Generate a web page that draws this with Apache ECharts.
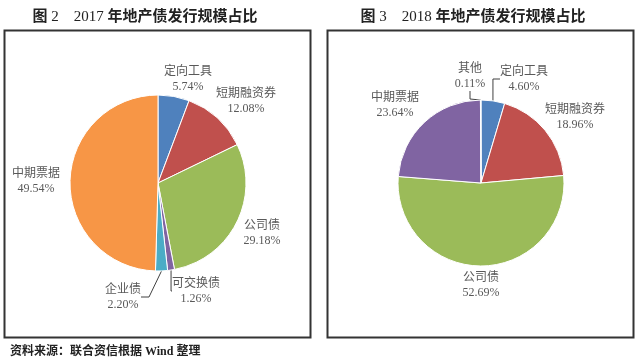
<!DOCTYPE html>
<html>
<head>
<meta charset="utf-8">
<script src="https://cdn.jsdelivr.net/npm/echarts@6/dist/echarts.min.js"></script>
<style>
html,body{margin:0;padding:0;background:#fff;}
#c{width:640px;height:358px;}
</style>
</head>
<body>
<div id="c"></div>
<script>
// ---- Data ----
const names2017 = ['定向工具', '短期融资券', '公司债', '可交换债', '企业债', '中期票据'];
const values2017 = [5.74, 12.08, 29.18, 1.26, 2.20, 49.54];
const names2018 = ['定向工具', '短期融资券', '公司债', '中期票据', '其他'];
const values2018 = [4.60, 18.96, 52.69, 23.64, 0.11];
const title2017 = ['图 ', '2', '　', '2017', ' 年地产债发行规模占比'];
const title2018 = ['图 ', '3', '　', '2018', ' 年地产债发行规模占比'];
const sourceText = '资料来源：联合资信根据 Wind 整理';

// ---- Styles / layout ----
const colors2017 = ['#4F81BD', '#C0504D', '#9BBB59', '#8064A2', '#4BACC6', '#F79646'];
const colors2018 = ['#4F81BD', '#C0504D', '#9BBB59', '#8064A2', '#4BACC6'];
const labelPos2017 = [[188, 79], [246, 101], [262, 233], [196, 291], [123, 297], [36, 181]];
const labelPos2018 = [[524, 79], [575, 117], [481, 285], [395, 105], [470, 76]];
const lineOn2017 = [false, false, false, true, true, false];
const lineOn2018 = [true, false, false, false, true];
const FONT = '"Liberation Serif", "Noto Sans CJK SC", serif';

function buildData(names, values, colors, lineOn) {
  return names.map((n, i) => ({
    name: n,
    value: values[i],
    itemStyle: { color: colors[i] },
    labelLine: { show: lineOn[i] }
  }));
}

function makeLayout(pos) {
  return function (params) {
    const p = pos[params.dataIndex];
    return { x: p[0], y: p[1], align: 'center', verticalAlign: 'middle' };
  };
}

function titleText(parts) {
  // CJK parts bold, numeric parts regular
  return parts.map((s, i) => (i === 1 || i === 3) ? '{n|' + s + '}' : '{c|' + s + '}').join('');
}
const titleRich = {
  c: { fontFamily: FONT, fontSize: 15, fontWeight: 'bold', color: '#222' },
  n: { fontFamily: FONT, fontSize: 15, fontWeight: 'normal', color: '#222' }
};

const labelCommon = {
  show: true,
  position: 'outside',
  color: '#595959',
  fontSize: 12,
  lineHeight: 15,
  fontFamily: FONT,
  align: 'center',
  formatter: p => p.name + '\n' + p.value.toFixed(2) + '%'
};

const chart = echarts.init(document.getElementById('c'), null, { renderer: 'canvas' });
chart.setOption({
  animation: false,
  title: [
    { text: titleText(title2017), left: 140, top: 5, textAlign: 'center',
      textStyle: { fontFamily: FONT, fontSize: 15, rich: titleRich } },
    { text: titleText(title2018), left: 468, top: 5, textAlign: 'center',
      textStyle: { fontFamily: FONT, fontSize: 15, rich: titleRich } },
    { text: sourceText, left: 5, top: 341,
      textStyle: { fontFamily: FONT, fontSize: 12, fontWeight: 'bold', color: '#222' } }
  ],
  graphic: [
    { type: 'rect', shape: { x: 4.5, y: 30.5, width: 306, height: 307 },
      style: { fill: null, stroke: '#333', lineWidth: 2 }, silent: true, z: -1 },
    { type: 'rect', shape: { x: 327.5, y: 30.5, width: 306, height: 307 },
      style: { fill: null, stroke: '#333', lineWidth: 2 }, silent: true, z: -1 }
  ],
  series: [
    {
      type: 'pie',
      center: [158, 183],
      radius: 88,
      startAngle: 90,
      clockwise: true,
      avoidLabelOverlap: false,
      itemStyle: { borderColor: '#fff', borderWidth: 1 },
      label: labelCommon,
      labelLine: { show: false, length: 8, length2: 8, lineStyle: { color: '#404040', width: 1 } },
      labelLayout: makeLayout(labelPos2017),
      data: buildData(names2017, values2017, colors2017, lineOn2017)
    },
    {
      type: 'pie',
      center: [481, 183],
      radius: 83,
      startAngle: 90,
      clockwise: true,
      avoidLabelOverlap: false,
      itemStyle: { borderColor: '#fff', borderWidth: 1 },
      label: labelCommon,
      labelLine: { show: false, length: 8, length2: 8, lineStyle: { color: '#404040', width: 1 } },
      labelLayout: makeLayout(labelPos2018),
      data: buildData(names2018, values2018, colors2018, lineOn2018)
    }
  ]
});
</script>
</body>
</html>
